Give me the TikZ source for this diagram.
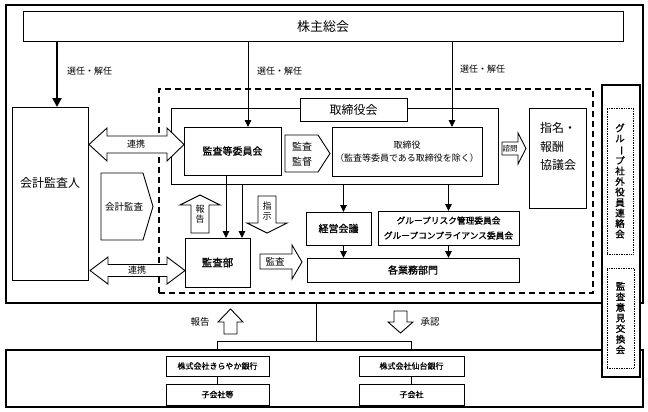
\documentclass[tikz,border=0pt]{standalone}
\usepackage{fontspec}
\setmainfont{Noto Sans CJK JP}
\newfontfamily\bj{Noto Sans CJK JP}[FakeBold=1.2]
\usetikzlibrary{arrows.meta}
\newcommand\fs[2]{\fontsize{#1}{#2}\selectfont}
\newcommand\vbar{\rotatebox[origin=c]{-90}{ー}}
\begin{document}
\begin{tikzpicture}[x=1pt,y=-1pt,
  box/.style={draw, line width=1pt, fill=white, inner sep=0pt, outer sep=0pt},
  frame/.style={draw, line width=1.2pt, inner sep=0pt, outer sep=0pt},
  dotbox/.style={draw, densely dotted, line width=0.7pt, inner sep=0pt, outer sep=0pt},
  conn/.style={line width=1pt, -{Triangle[length=7pt,width=6.5pt]}},
  thickconn/.style={line width=2.6pt, -{Triangle[length=9pt,width=9pt]}},
  plain/.style={line width=1pt},
  blk/.style={draw, line width=0.9pt, fill=white, line join=miter},
  lbl/.style={inner sep=0pt, outer sep=0pt, font=\fs{9}{11}},
]
\useasboundingbox (0,0) rectangle (648,412);
\fill[white] (0,0) rectangle (648,412);

% frames
\node[frame, minimum width=637pt, minimum height=298pt] (topframe) at (324.5,154) {};
\node[frame, minimum width=637pt, minimum height=57pt] (botframe) at (324.5,378.5) {};

% shareholders
\node[box, minimum width=600pt, minimum height=30pt, font=\fs{13}{13}] (sh) at (323,27) {株主総会};

% accounting auditor
\node[box, minimum width=76pt, minimum height=173pt] (kaikei) at (50,193.5) {};
\node[lbl, font=\fs{12}{12}] (kaikeitxt) at (50,183) {会計監査人};

% dashed region
\node[draw, dash pattern=on 6pt off 4pt, line width=1.2pt, inner sep=0pt, outer sep=0pt,
      minimum width=434pt, minimum height=204pt] (dashbox) at (376,191) {};

% board
\node[box, minimum width=327pt, minimum height=76pt] (tkouter) at (334.5,146) {};
\node[box, minimum width=107pt, minimum height=23pt, font=\fs{12}{12}] (tklabel) at (353.5,109.5) {取締役会};
\node[box, minimum width=97pt, minimum height=48pt, font=\bj\fs{10}{10}] (kansaiin) at (232.5,151) {監査等委員会};
\node[box, minimum width=150pt, minimum height=49pt, align=center, font=\fs{9}{13}] (tori) at (407,151.5) {取締役\\（監査等委員である取締役を除く）};
\node[box, minimum width=57pt, minimum height=100pt] (shimei) at (557.5,158) {};
\node[lbl, anchor=west, align=left, font=\fs{12}{18.5}] (shimeitxt) at (540,146.5) {指名・\\報酬\\協議会};

\node[box, minimum width=65pt, minimum height=33pt, font=\bj\fs{10}{10}] (keiei) at (338.5,228.5) {経営会議};
\node[box, minimum width=141pt, minimum height=34pt, align=center, font=\bj\fs{8.7}{15}] (group) at (448.5,228) {グループリスク管理委員会\\グループコンプライアンス委員会};
\node[box, minimum width=212pt, minimum height=24pt, font=\bj\fs{10}{10}] (kakugyo) at (413,270) {各業務部門};
\node[box, minimum width=65pt, minimum height=49pt, font=\bj\fs{10.5}{10.5}] (kansabu) at (217.5,262.5) {監査部};

% subsidiaries
\node[box, minimum width=103pt, minimum height=20pt, font=\bj\fs{8}{8}] (kira) at (217.5,366) {株式会社きらやか銀行};
\node[box, minimum width=103pt, minimum height=21pt, font=\bj\fs{8}{8}] (kogt) at (217.5,394.5) {子会社等};
\node[box, minimum width=105pt, minimum height=20pt, font=\bj\fs{8}{8}] (sendai) at (411.5,366) {株式会社仙台銀行};
\node[box, minimum width=105pt, minimum height=21pt, font=\bj\fs{8}{8}] (kog) at (411.5,394.5) {子会社};

% connectors from shareholders
\coordinate (c57) at (57,0);
\coordinate (c248) at (248,0);
\coordinate (c452) at (452,0);
\draw[thickconn] (sh.south -| c57) -- (kaikei.north -| c57);
\draw[conn] (sh.south -| c248) -- (kansaiin.north -| c248);
\draw[conn] (sh.south -| c452) -- (tori.north -| c452);
\node[lbl, anchor=west] (l1) at (67,71) {選任・解任};
\node[lbl, anchor=west] (l2) at (257,71) {選任・解任};
\node[lbl, anchor=west] (l3) at (460,69) {選任・解任};

% internal connectors
\coordinate (c226) at (226,0);
\coordinate (c242) at (242,0);
\coordinate (c343) at (343.5,0);
\coordinate (c448) at (448.5,0);
\draw[conn] (kansaiin.south -| c226) -- (kansabu.north -| c226);
\draw[conn] (tkouter.south -| c242) -- (kansabu.north -| c242);
\draw[conn] (tkouter.south -| c343) -- (keiei.north -| c343);
\draw[conn] (tkouter.south -| c448) -- (group.north -| c448);
\draw[conn] (keiei.south -| c343) -- (kakugyo.north -| c343);
\draw[conn] (group.south -| c448) -- (kakugyo.north -| c448);

% block arrows
\draw[blk] (89,144.5) -- (107,128) -- (107,136) -- (167,136) -- (167,128) -- (184,144.5)
  -- (167,161) -- (167,153) -- (107,153) -- (107,161) -- cycle;
\node[lbl] (rk1) at (136,144.5) {連携};
\draw[blk] (90,270.5) -- (108,257) -- (108,264.5) -- (167,264.5) -- (167,257) -- (185,270.5)
  -- (167,284) -- (167,276.5) -- (108,276.5) -- (108,284) -- cycle;
\node[lbl] (rk2) at (137,270.5) {連携};
\draw[blk] (101,173) -- (143,173) -- (153,206.5) -- (143,240) -- (101,240) -- cycle;
\node[lbl, font=\fs{9.5}{9.5}] (kk) at (124,206.5) {会計監査};
\draw[blk] (285,135) -- (318,135) -- (330,153.5) -- (318,172) -- (285,172) -- cycle;
\node[lbl, align=center, font=\fs{10}{15}] (kt) at (302,154) {監査\\監督};
\draw[blk] (502,142) -- (518,142) -- (518,133) -- (526,148.5) -- (518,164) -- (518,155) -- (502,155) -- cycle;
\node[lbl, font=\fs{7.5}{7.5}] (sm) at (510,148.5) {諮問};
\draw[blk] (200,195) -- (220,205) -- (209,205) -- (209,233) -- (191,233) -- (191,205) -- (180,205) -- cycle;
\node[lbl, align=center, font=\fs{9}{10.5}] (hk) at (200,214) {報\\告};
\draw[blk] (258,196) -- (276,196) -- (276,223) -- (287,223) -- (267,233) -- (247,223) -- (258,223) -- cycle;
\node[lbl, align=center, font=\fs{9}{10}] (sj) at (267,211) {指\\示};
\draw[blk] (260,254) -- (292,254) -- (292,245) -- (302,262) -- (292,279) -- (292,269) -- (260,269) -- cycle;
\node[lbl, font=\fs{9.5}{9.5}] (ks) at (275,262) {監査};

% tree to subsidiaries
\coordinate (t316) at (316,341);
\draw[plain] (topframe.south -| t316) -- (t316);
\draw[plain] (botframe.north -| kira.north) -- (kira.north |- t316) -- (sendai.north |- t316) -- (botframe.north -| sendai.north);
\draw[plain] (kira.south) -- (kogt.north);
\draw[plain] (sendai.south) -- (kog.north);
\draw[blk] (230.5,309) -- (243,322) -- (237,322) -- (237,334) -- (224,334) -- (224,322) -- (218,322) -- cycle;
\node[lbl, font=\fs{9.5}{9.5}] (hk2) at (200,322) {報告};
\draw[blk] (394,311) -- (407,311) -- (407,322) -- (413,322) -- (400.5,333) -- (388,322) -- (394,322) -- cycle;
\node[lbl, font=\fs{9.5}{9.5}] (sn) at (430,322) {承認};

% right tall box
\node[box, line width=1.2pt, minimum width=38pt, minimum height=292pt] (tall) at (621,231) {};
\node[dotbox, minimum width=26pt, minimum height=146pt, align=center, font=\bj\fs{9.5}{10.5}] (dot1) at (620,181)
  {グ\\ル\\\vbar\\プ\\社\\外\\役\\員\\連\\絡\\会};
\node[dotbox, minimum width=27pt, minimum height=100pt, align=center, font=\bj\fs{9.5}{10.6}] (dot2) at (620.5,318)
  {監\\査\\意\\見\\交\\換\\会};
\end{tikzpicture}
\end{document}
